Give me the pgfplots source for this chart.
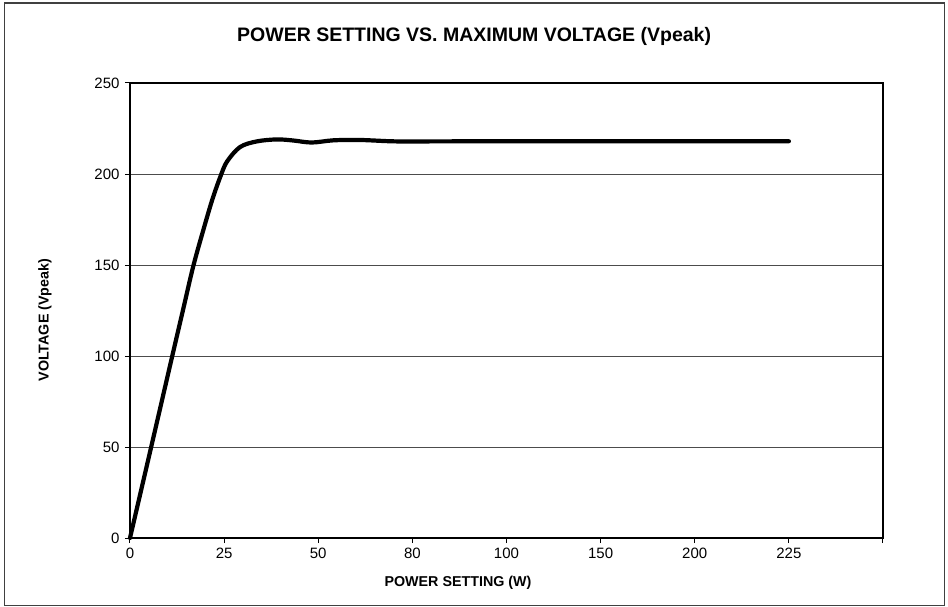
\documentclass[border=0pt]{standalone}
\usepackage{pgfplots}
\pgfplotsset{compat=1.18}
\usepackage{fontspec}
\setmainfont{Liberation Sans}
\begin{document}
\begin{tikzpicture}
\useasboundingbox[fill=white] (0pt,0pt) rectangle (948pt,606pt);
\draw[line width=1.2pt, black!75] (4.5pt,0.5pt) rectangle (944.5pt,603pt);
\begin{axis}[
  at={(130pt,68pt)}, anchor=south west,
  scale only axis, width=753pt, height=455pt,
  xmin=0, xmax=8, ymin=0, ymax=250,
  xtick={0,1,2,3,4,5,6,7,8},
  xticklabels={0,25,50,80,100,150,200,225,{}},
  ytick={0,50,100,150,200,250},
  ymajorgrids,
  grid style={line width=1pt, black!70},
  axis line style={line width=1.1pt, black},
  tick style={line width=1pt, black},
  tick align=outside, major tick length=5pt,
  xtick pos=bottom, ytick pos=left,
  /pgf/number format/assume math mode=true,
  ticklabel style={font=\fontsize{15}{17}\selectfont},
  xticklabel style={yshift=-1pt},
  yticklabel style={xshift=-2pt},
  title={\textbf{POWER SETTING VS. MAXIMUM VOLTAGE (Vpeak)}},
  title style={at={(rel axis cs:0.457,1.090)}, anchor=center, font=\fontsize{19.5}{22}\selectfont},
  xlabel={\textbf{POWER SETTING (W)}},
  xlabel style={at={(rel axis cs:0.4356,-0.099)}, anchor=center, font=\fontsize{14.3}{16}\selectfont},
  ylabel={\textbf{VOLTAGE (Vpeak)}},
  ylabel style={at={(rel axis cs:-0.113,0.479)}, anchor=center, font=\fontsize{14.3}{16}\selectfont},
  clip=false,
]
\addplot[black, line width=4.2pt, line join=round, line cap=round, smooth, tension=0.55] coordinates {
(0,0) (0.225,50) (0.449,100) (0.562,125) (0.673,149.5) (0.789,171) (0.878,186.5) (0.967,199.5) (1.033,207) (1.169,214.8) (1.346,217.9) (1.56,219.0) (1.736,218.4) (1.93,217.3) (2.16,218.5) (2.44,218.7) (2.76,218.0) (3,217.9) (4,218) (5,218) (6,218) (7,218)
};
\end{axis}
\end{tikzpicture}
\end{document}
